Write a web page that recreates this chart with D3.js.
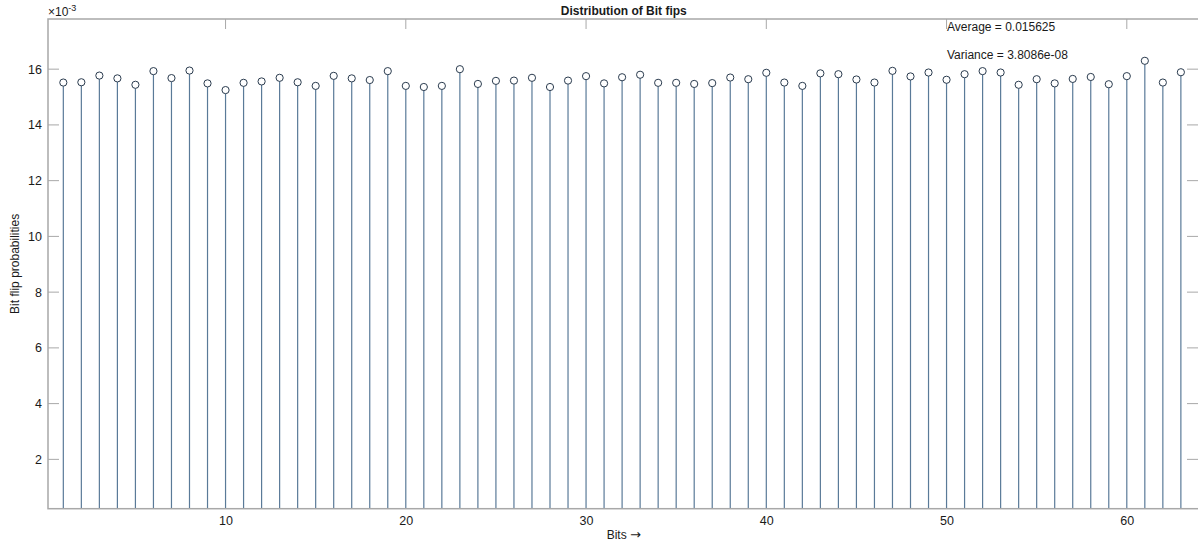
<!DOCTYPE html>
<html>
<head>
<meta charset="utf-8">
<script src="https://cdn.jsdelivr.net/npm/d3@7"></script>
<style>
  body { margin: 0; background: #fff; }
  text { font-family: "Liberation Sans", Arial, sans-serif; fill: #1a1a1a; }
</style>
</head>
<body>
<div id="chart"></div>
<script>
// bit index 1..63 and flip probability (x 1e-3)
var bits = d3.range(1, 64);
var probs = [
  15.52, 15.53, 15.77, 15.67, 15.44, 15.93, 15.68, 15.95, 15.49, 15.25,
  15.51, 15.56, 15.69, 15.53, 15.40, 15.76, 15.67, 15.61, 15.93, 15.40,
  15.36, 15.40, 16.00, 15.47, 15.58, 15.59, 15.69, 15.36, 15.59, 15.75,
  15.49, 15.71, 15.80, 15.51, 15.51, 15.47, 15.50, 15.70, 15.64, 15.87,
  15.52, 15.40, 15.85, 15.82, 15.63, 15.52, 15.94, 15.74, 15.88, 15.62,
  15.82, 15.93, 15.88, 15.44, 15.64, 15.49, 15.65, 15.72, 15.46, 15.75,
  16.30, 15.52, 15.89
];
var xTicks = [10, 20, 30, 40, 50, 60];
var yTicks = [2, 4, 6, 8, 10, 12, 14, 16];
var notes = ["Average = 0.015625", "Variance = 3.8086e-08"];

var W = 1198, H = 543;
// plot box edges (avoid "top", it clashes with window.top)
// right edge sits just past the picture, as in the cropped original
var pL = 48, pR = 1199.5, pT = 19, pB = 508.7;

var svg = d3.select("#chart").append("svg")
  .attr("width", W)
  .attr("height", H);

var x = d3.scaleLinear().domain([0.15, 63.95]).range([pL, 1198]);
var y = d3.scaleLinear().domain([0.23, 17.8]).range([pB, pT]);

// stems
svg.append("g").selectAll("line")
  .data(bits)
  .enter().append("line")
    .attr("x1", function(d) { return x(d); })
    .attr("x2", function(d) { return x(d); })
    .attr("y1", y(0.23))
    .attr("y2", function(d, i) { return y(probs[i]) + 3.6; })
    .attr("stroke", "#5a7a98")
    .attr("stroke-width", 1.2);

// markers
svg.append("g").selectAll("circle")
  .data(bits)
  .enter().append("circle")
    .attr("cx", function(d) { return x(d); })
    .attr("cy", function(d, i) { return y(probs[i]); })
    .attr("r", 3.6)
    .attr("fill", "none")
    .attr("stroke", "#2a3b4e")
    .attr("stroke-width", 1);

// box + ticks
var axisCol = "#a8a8a8";
svg.append("rect")
  .attr("x", pL).attr("y", pT)
  .attr("width", pR - pL).attr("height", pB - pT)
  .attr("fill", "none")
  .attr("stroke", axisCol)
  .attr("stroke-width", 1.5);

var xAxis = d3.axisBottom(x).tickValues(xTicks).tickSize(0).tickPadding(7);
svg.append("g")
  .attr("transform", "translate(0," + pB + ")")
  .call(xAxis)
  .call(function(g) { g.select(".domain").remove(); })
  .selectAll("text").attr("font-size", 12.5).attr("fill", "#1a1a1a");

// inward tick marks on the top edge
svg.append("g").selectAll("line")
  .data(xTicks)
  .enter().append("line")
    .attr("x1", function(d) { return x(d); })
    .attr("x2", function(d) { return x(d); })
    .attr("y1", pT).attr("y2", pT + 10)
    .attr("stroke", axisCol);

var yAxis = d3.axisLeft(y).tickValues(yTicks).tickSize(0).tickPadding(6);
svg.append("g")
  .attr("transform", "translate(" + pL + ",0)")
  .call(yAxis)
  .call(function(g) { g.select(".domain").remove(); })
  .selectAll("text").attr("font-size", 12.5).attr("fill", "#1a1a1a");

svg.append("g").selectAll("line")
  .data(yTicks)
  .enter().append("line")
    .attr("x1", pL).attr("x2", pL + 11)
    .attr("y1", function(d) { return y(d); })
    .attr("y2", function(d) { return y(d); })
    .attr("stroke", axisCol);
svg.append("g").selectAll("line")
  .data(yTicks)
  .enter().append("line")
    .attr("x1", 1187).attr("x2", pR)
    .attr("y1", function(d) { return y(d); })
    .attr("y2", function(d) { return y(d); })
    .attr("stroke", axisCol);

// exponent label
var ex = svg.append("text")
  .attr("x", pL)
  .attr("y", 16)
  .attr("font-size", 12);
ex.append("tspan").text("\u00d710");
ex.append("tspan").attr("dy", -5).attr("font-size", 9).text("-3");

// title
svg.append("text")
  .attr("x", (pL + pR) / 2)
  .attr("y", 15)
  .attr("text-anchor", "middle")
  .attr("font-size", 12)
  .attr("font-weight", "bold")
  .text("Distribution of Bit fips");

// annotations
svg.selectAll(".note")
  .data(notes)
  .enter().append("text")
    .attr("class", "note")
    .attr("x", 947)
    .attr("y", function(d, i) { return 31 + i * 28; })
    .attr("font-size", 12)
    .text(function(d) { return d; });

// axis labels
var xl = svg.append("text")
  .attr("x", (pL + pR) / 2)
  .attr("y", 539)
  .attr("text-anchor", "middle")
  .attr("font-size", 12);
xl.append("tspan").text("Bits ");
xl.append("tspan").attr("font-family", "DejaVu Sans").attr("font-size", 13).text("\u2192");

svg.append("text")
  .attr("transform", "translate(19," + ((pT + pB) / 2) + ") rotate(-90)")
  .attr("text-anchor", "middle")
  .attr("font-size", 12)
  .text("Bit flip probabilities");
</script>
</body>
</html>
